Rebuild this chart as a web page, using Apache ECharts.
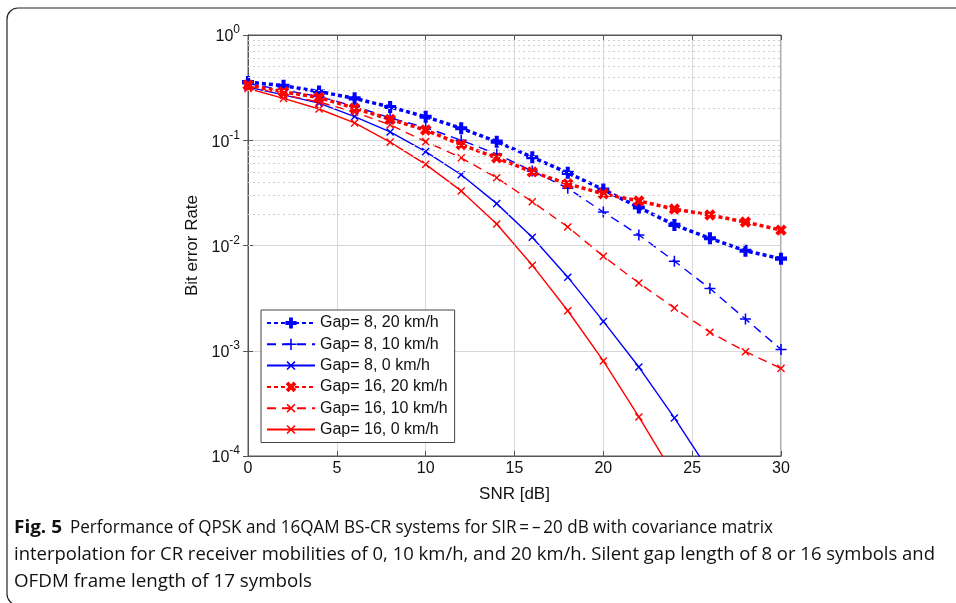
<!DOCTYPE html>
<html><head><meta charset="utf-8">
<script src="https://cdn.jsdelivr.net/npm/echarts@6/dist/echarts.min.js"></script>
<style>html,body{margin:0;padding:0;background:#fff}#c{width:956px;height:603px}</style>
</head><body><div id="c"></div>
<script>
const snr = [0,2,4,6,8,10,12,14,16,18,20,22,24,26,28,30];
const seriesNames = ['Gap= 8, 20 km/h','Gap= 8, 10 km/h','Gap= 8, 0 km/h','Gap= 16, 20 km/h','Gap= 16, 10 km/h','Gap= 16, 0 km/h'];
const gap8_20 = [0.357,0.33,0.29,0.25,0.207,0.167,0.13,0.097,0.069,0.049,0.034,0.023,0.0157,0.0117,0.0089,0.0075];
const gap8_10 = [0.345,0.30,0.26,0.21,0.163,0.132,0.10,0.074,0.051,0.035,0.0208,0.0126,0.0071,0.0039,0.0020,0.00103];
const gap8_0  = [0.32,0.27,0.225,0.168,0.12,0.078,0.047,0.025,0.012,0.005,0.0019,0.0007,0.00023,0.00007];
const gap16_20 = [0.335,0.288,0.255,0.202,0.158,0.125,0.091,0.068,0.050,0.0385,0.031,0.0265,0.0222,0.0195,0.0167,0.014];
const gap16_10 = [0.33,0.27,0.231,0.185,0.14,0.097,0.068,0.044,0.026,0.015,0.0079,0.0044,0.00255,0.0015,0.00098,0.00068];
const gap16_0  = [0.31,0.25,0.198,0.146,0.096,0.059,0.033,0.016,0.0065,0.0024,0.0008,0.000235,0.000065];
const captionBold = 'Fig. 5';
const captionLines = [
 'Performance of QPSK and 16QAM BS-CR systems for SIR\u2009=\u2009\u2013\u200920 dB with covariance matrix',
 'interpolation for CR receiver mobilities of 0, 10 km/h, and 20 km/h. Silent gap length of 8 or 16 symbols and',
 'OFDM frame length of 17 symbols'
];

const BLUE = '#0000ff', RED = '#ff0000';
const plusBold = 'path://M3.3,0H6.7V3.3H10V6.7H6.7V10H3.3V6.7H0V3.3H3.3Z';
const plusThin = 'path://M4.3,0H5.7V4.3H10V5.7H5.7V10H4.3V5.7H0V4.3H4.3Z';

function pairs(vals){ return vals.map((v,i)=>[snr[i], v]); }

const minorVals = [];
for (let n=-4;n<0;n++) for (let k=2;k<=9;k++) minorVals.push(k*Math.pow(10,n));

const fontF = 'Liberation Sans, Arial, sans-serif';

function mk(name, data, color, lineType, width, symbol, size, rot){
  return {
    name, type:'line', data: pairs(data), xAxisIndex:0, yAxisIndex:0,
    symbol, symbolSize:size, symbolRotate:rot, symbolKeepAspect:true, showSymbol:true,
    lineStyle:{color, type:lineType, width},
    itemStyle:{color, borderWidth:0},
    emphasis:{disabled:true}, animation:false, clip:true
  };
}

const cv = document.createElement('canvas').getContext('2d');
const capFont = '18px "Open Sans"';
const capBoldFont = 'bold 18px "Open Sans"';
function fit(text, font, target){ cv.font = font; return target / cv.measureText(text).width; }
const sB = fit(captionBold, capBoldFont, 48);
const s0 = fit(captionLines[0], capFont, 703);
const s1 = fit(captionLines[1], capFont, 921);
const s2 = fit(captionLines[2], capFont, 298);

const chart = echarts.init(document.getElementById('c'));
chart.setOption({
  animation:false,
  backgroundColor:'#fff',
  grid:{left:248, right:175, top:35, bottom:147, show:true, borderColor:'#555', borderWidth:1},
  xAxis:[{
    type:'value', min:0, max:30, interval:5,
    name:'SNR [dB]', nameLocation:'middle', nameGap:30,
    nameTextStyle:{fontSize:17, fontFamily:fontF, color:'#111'},
    axisLine:{show:true, lineStyle:{color:'#555'}},
    axisTick:{show:true, inside:true, length:5, lineStyle:{color:'#555'}},
    axisLabel:{fontSize:16, fontFamily:fontF, color:'#111', margin:5},
    splitLine:{show:true, lineStyle:{color:'#d8d8d8', width:1}}
  },{
    type:'value', min:0, max:30, interval:5, position:'top',
    axisLine:{show:true, lineStyle:{color:'#555'}},
    axisTick:{show:true, inside:true, length:5, lineStyle:{color:'#555'}},
    axisLabel:{show:false}, splitLine:{show:false}
  }],
  yAxis:[{
    type:'log', logBase:10, min:1e-4, max:1,
    name:'Bit error Rate', nameLocation:'middle', nameGap:46,
    nameTextStyle:{fontSize:17, fontFamily:fontF, color:'#111'},
    axisLine:{show:true, lineStyle:{color:'#555'}},
    axisTick:{show:true, inside:true, length:5, lineStyle:{color:'#555'}},
    axisLabel:{fontFamily:fontF, color:'#111', margin:8,
      formatter:function(v){ const e = Math.round(Math.log10(v)); return '{b|10}{s|'+e+'}'; },
      rich:{ b:{fontSize:16, fontFamily:fontF, color:'#111', padding:[4,0,0,0]}, s:{fontSize:12, fontFamily:fontF, color:'#111', padding:[0,0,10,0]} }
    },
    splitLine:{show:true, lineStyle:{color:'#d8d8d8', width:1}}
  },{
    type:'log', logBase:10, min:1e-4, max:1, position:'right',
    axisLine:{show:true, lineStyle:{color:'#555'}},
    axisTick:{show:true, inside:true, length:5, lineStyle:{color:'#555'}},
    axisLabel:{show:false}, splitLine:{show:false}
  }],
  legend:{
    data:seriesNames, orient:'vertical', left:261, top:310,
    itemWidth:48, itemHeight:14, itemGap:5.3,
    padding:[5,7,5,5], borderColor:'#444', borderWidth:1, backgroundColor:'#fff',
    textStyle:{fontSize:16, fontFamily:fontF, color:'#111'},
    selectedMode:false
  },
  series:[
    {
      type:'line', data:[], silent:true, xAxisIndex:0, yAxisIndex:0,
      markLine:{ silent:true, symbol:['none','none'], label:{show:false},
        lineStyle:{color:'#cfcfcf', type:[2,3], width:1}, animation:false,
        data: minorVals.map(v=>({yAxis:v})) }
    },
    mk(seriesNames[0], gap8_20, BLUE, [4,3], 3.5, plusBold, 12, 0),
    mk(seriesNames[1], gap8_10, BLUE, [9,6], 1.4, plusThin, 11, 0),
    mk(seriesNames[2], gap8_0, BLUE, 'solid', 1.4, plusThin, 10, 45),
    mk(seriesNames[3], gap16_20, RED, [4,3], 3.5, plusBold, 12, 45),
    mk(seriesNames[4], gap16_10, RED, [9,6], 1.4, plusThin, 10, 45),
    mk(seriesNames[5], gap16_0, RED, 'solid', 1.4, plusThin, 10, 45)
  ],
  graphic:[
    {type:'rect', silent:true, shape:{x:7, y:8, width:1000, height:597, r:11},
     style:{fill:'none', stroke:'#222', lineWidth:1.2}},
    {type:'text', x:14, y:519, style:{text:captionBold, font:capBoldFont, fill:'#111'}, scaleX:sB},
    {type:'text', x:70, y:519, style:{text:captionLines[0], font:capFont, fill:'#111'}, scaleX:s0},
    {type:'text', x:14, y:546, style:{text:captionLines[1], font:capFont, fill:'#111'}, scaleX:s1},
    {type:'text', x:14, y:573, style:{text:captionLines[2], font:capFont, fill:'#111'}, scaleX:s2}
  ]
});
</script></body></html>
